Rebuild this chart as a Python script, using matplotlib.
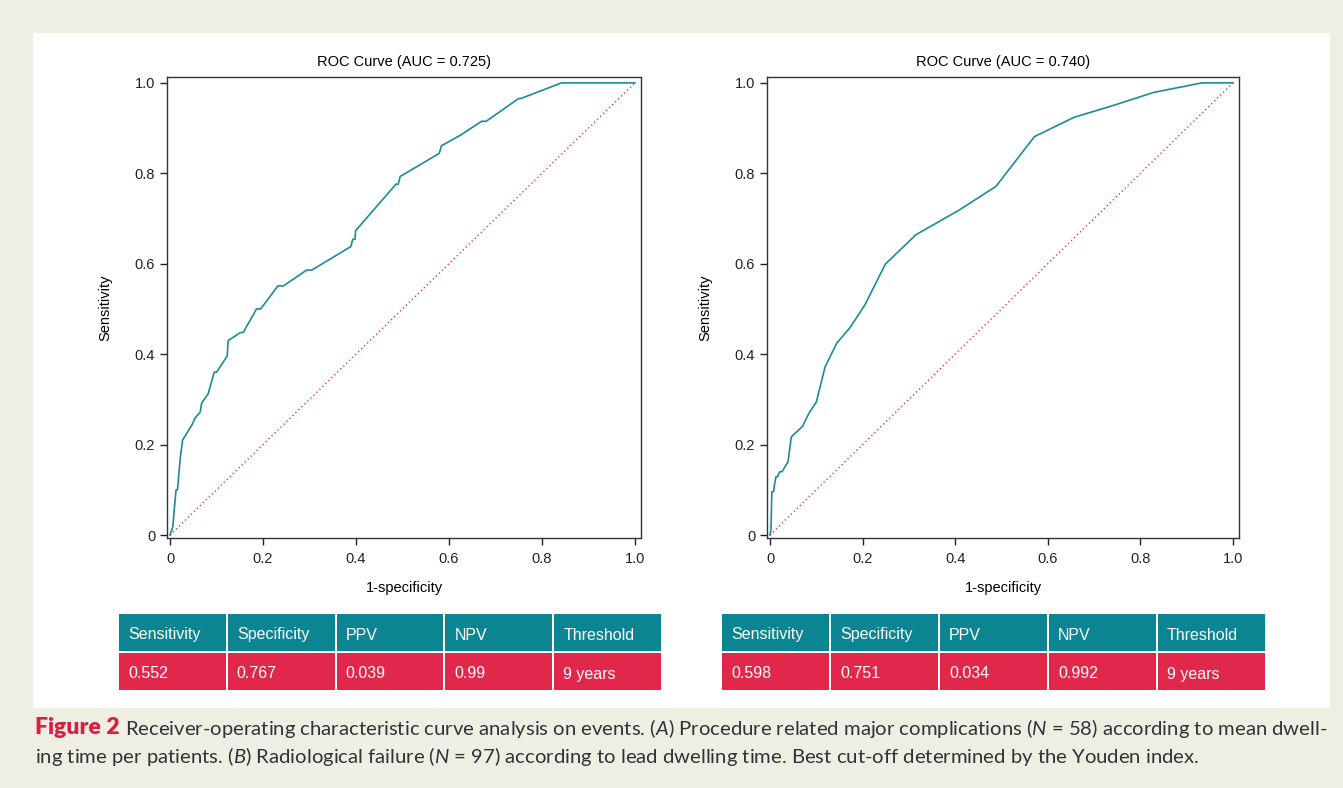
import numpy as np
import matplotlib
matplotlib.use('Agg')
import matplotlib.pyplot as plt
from matplotlib.patches import Rectangle

# --- Données ---
fpr_a = [0, 0.006, 0.009, 0.013, 0.016, 0.022, 0.027, 0.036, 0.047, 0.054, 0.065,
         0.068, 0.082, 0.095, 0.100, 0.123, 0.125, 0.150, 0.158, 0.186, 0.195,
         0.232, 0.244, 0.294, 0.305, 0.389, 0.393, 0.398, 0.399, 0.486, 0.491,
         0.495, 0.579, 0.584, 0.624, 0.670, 0.680, 0.749, 0.756, 0.842, 1.0]
tpr_a = [0, 0.018, 0.055, 0.100, 0.100, 0.170, 0.210, 0.225, 0.243, 0.259, 0.272,
         0.292, 0.312, 0.360, 0.360, 0.396, 0.430, 0.447, 0.449, 0.500, 0.500,
         0.551, 0.551, 0.586, 0.586, 0.638, 0.654, 0.654, 0.673, 0.776, 0.776,
         0.793, 0.844, 0.861, 0.884, 0.915, 0.915, 0.965, 0.966, 1.0, 1.0]

fpr_b = [0, 0.002, 0.004, 0.008, 0.009, 0.013, 0.016, 0.021, 0.026, 0.039, 0.046,
         0.070, 0.085, 0.100, 0.119, 0.144, 0.173, 0.205, 0.249, 0.315, 0.409,
         0.488, 0.571, 0.657, 0.735, 0.829, 0.933, 1.0]
tpr_b = [0, 0.011, 0.096, 0.096, 0.108, 0.129, 0.129, 0.140, 0.140, 0.162, 0.217,
         0.240, 0.271, 0.294, 0.372, 0.424, 0.459, 0.509, 0.599, 0.664, 0.719,
         0.771, 0.881, 0.924, 0.948, 0.979, 1.0, 1.0]

auc = [0.725, 0.740]
entetes = ['Sensitivity', 'Specificity', 'PPV', 'NPV', 'Threshold']
valeurs_a = ['0.552', '0.767', '0.039', '0.99', '9 years']
valeurs_b = ['0.598', '0.751', '0.034', '0.992', '9 years']

# --- Couleurs ---
beige = '#efeee4'
teal = '#0b8591'
courbe = '#1b8c98'
rouge = '#e1284a'
rouge_titre = '#d9203f'

W, H = 1343, 788
fig = plt.figure(figsize=(W / 100, H / 100), dpi=100, facecolor=beige)
plt.rcParams['font.family'] = ['Liberation Sans', 'DejaVu Sans']

# panneau blanc
fig.patches.append(Rectangle((33 / W, 1 - 708 / H), (1330 - 33) / W, (708 - 33) / H,
                             transform=fig.transFigure, facecolor='white',
                             edgecolor='none', zorder=-10))


def px_box(x0, y0, x1, y1):
    return [x0 / W, 1 - y1 / H, (x1 - x0) / W, (y1 - y0) / H]


def roc(ax, fpr, tpr, a):
    ax.plot([0, 1], [0, 1], color='#e8344f', ls=(0, (1, 2)), lw=1)
    ax.plot(fpr, tpr, color=courbe, lw=1.2)
    ax.set_xlim(-0.0065, 1.013)
    ax.set_ylim(-0.0066, 1.013)
    ticks = [0, 0.2, 0.4, 0.6, 0.8, 1.0]
    labs = ['0', '0.2', '0.4', '0.6', '0.8', '1.0']
    ax.set_xticks(ticks)
    ax.set_xticklabels(labs)
    ax.set_yticks(ticks)
    ax.set_yticklabels(labs)
    ax.tick_params(direction='out', length=5, width=1, labelsize=10.5, colors='#222222')
    ax.tick_params(axis='x', pad=5)
    for s in ax.spines.values():
        s.set_color('#333333')
        s.set_linewidth(1)
    ax.set_xlabel('1-specificity', fontsize=10.5, labelpad=11)
    ax.set_ylabel('Sensitivity', fontsize=10.5, labelpad=16)
    ax.set_title('ROC Curve (AUC = %.3f)' % a, fontsize=10.5, pad=8)


ax1 = fig.add_axes(px_box(167, 77, 641, 538))
roc(ax1, fpr_a, tpr_a, auc[0])
ax2 = fig.add_axes(px_box(767, 77, 1239, 538))
roc(ax2, fpr_b, tpr_b, auc[1])


def tableau(x0, x1, vals):
    n = len(entetes)
    larg = (x1 - x0) / n
    for rows in [(entetes, teal, 614, 651), (vals, rouge, 653, 690)]:
        textes, coul, ya, yb = rows
        for i, t in enumerate(textes):
            xa = x0 + i * larg
            fig.patches.append(Rectangle((xa / W, 1 - yb / H), (larg - 2) / W, (yb - ya) / H,
                                         transform=fig.transFigure, facecolor=coul,
                                         edgecolor='none', zorder=1))
            fig.text((xa + 9) / W, 1 - ((ya + yb) / 2 + 1) / H, t, color='white',
                     fontsize=11.5, va='center_baseline', ha='left')


tableau(119, 663, valeurs_a)
tableau(722, 1267, valeurs_b)

# --- Légende ---
plt.rcParams['mathtext.fontset'] = 'custom'
plt.rcParams['mathtext.rm'] = 'Lato'
plt.rcParams['mathtext.it'] = 'Lato:italic'
fs = 14.6
t0 = fig.text(35 / W, 1 - 728 / H, 'Figure 2', family='Lato', weight='heavy',
              color=rouge_titre, fontsize=fs + 2, va='center')
fig.canvas.draw()
bb = t0.get_window_extent()
ligne1 = (r' Receiver-operating characteristic curve analysis on events. ($\it{A}$) Procedure '
          r'related major complications ($\it{N}$ = 58) according to mean dwell-')
ligne2 = (r'ing time per patients. ($\it{B}$) Radiological failure ($\it{N}$ = 97) according '
          r'to lead dwelling time. Best cut-off determined by the Youden index.')
fig.text(bb.x1 / W, 1 - 728 / H, ligne1, family='Lato', color='#333333',
         fontsize=fs, va='center')
fig.text(35 / W, 1 - 757 / H, ligne2, family='Lato', color='#333333',
         fontsize=fs, va='center')

fig.savefig('out.png', dpi=100, facecolor=beige)
